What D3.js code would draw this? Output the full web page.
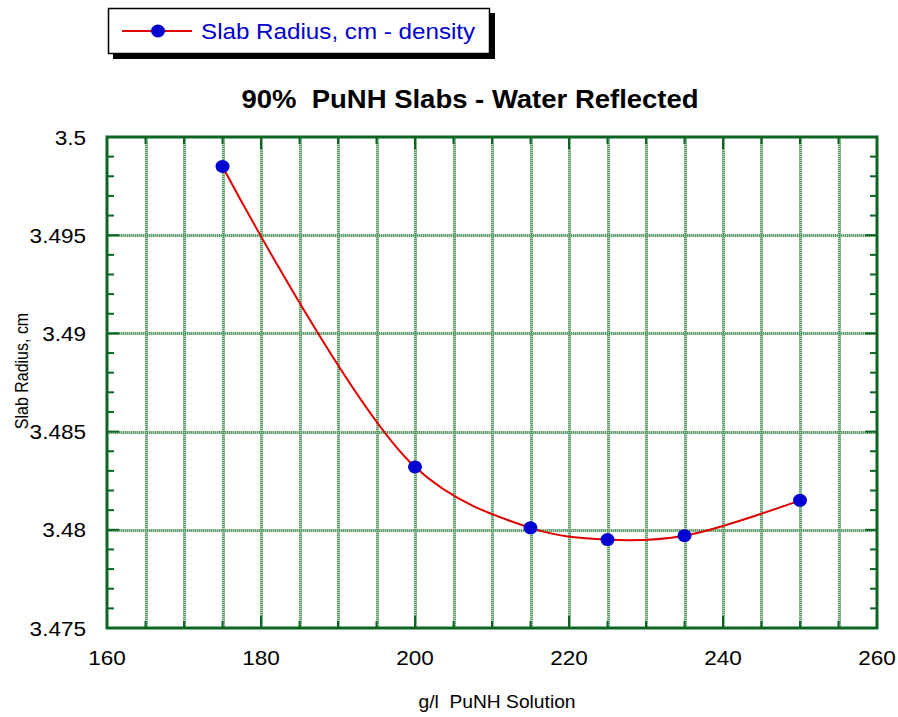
<!DOCTYPE html>
<html>
<head>
<meta charset="utf-8">
<script src="https://cdn.jsdelivr.net/npm/d3@7"></script>
<style>
  body { margin: 0; background: #fff; }
  svg { font-family: "Liberation Sans", Arial, sans-serif; }
  text { white-space: pre; }
</style>
</head>
<body>
<svg id="chart" width="898" height="717"></svg>
<script>
// data
const density = [175, 200, 215, 225, 235, 250];
const radius = [3.4985, 3.4832, 3.4801, 3.4795, 3.4797, 3.4815];
const xTicks = [160, 180, 200, 220, 240, 260];
const yTicks = [3.475, 3.48, 3.485, 3.49, 3.495, 3.5];
const yTickText = ["3.475", "3.48", "3.485", "3.49", "3.495", "3.5"];

const svg = d3.select("#chart");
const pLeft = 107, pRight = 877, pTop = 137, pBottom = 628;
const green = "#0b6421";
const sx = 1.1; // the original picture is a bit wider than tall, text too

const x = d3.scaleLinear().domain([160, 260]).range([pLeft, pRight]);
const y = d3.scaleLinear().domain([3.475, 3.5]).range([pBottom, pTop]);

function label(g, tx, ty, str, size, anchor) {
  return g.append("text")
      .attr("transform", `translate(${tx},${ty}) scale(${sx},1)`)
      .attr("text-anchor", anchor || "middle")
      .attr("font-size", size)
      .text(str);
}

// grid: verticals every 5, horizontals at major ticks
const grid = svg.append("g");
const vGrid = d3.range(165, 260, 5);
const hGrid = yTicks.slice(1, -1);
[["#b4d2ba", null], ["#5c9c68", "1,1"]].forEach(([col, dash]) => {
  grid.append("g").selectAll("line")
      .data(vGrid).enter().append("line")
      .attr("x1", d => Math.round(x(d)) + 0.5).attr("x2", d => Math.round(x(d)) + 0.5)
      .attr("y1", pTop).attr("y2", pBottom)
      .attr("stroke", col).attr("stroke-width", 3)
      .attr("stroke-dasharray", dash);
  grid.append("g").selectAll("line")
      .data(hGrid).enter().append("line")
      .attr("x1", pLeft).attr("x2", pRight)
      .attr("y1", d => Math.round(y(d)) + 0.5).attr("y2", d => Math.round(y(d)) + 0.5)
      .attr("stroke", col).attr("stroke-width", 3)
      .attr("stroke-dasharray", dash);
});

// ticks (inward) on all four sides
const ticks = svg.append("g").attr("stroke", green).attr("stroke-width", 2);
const xMinor = d3.range(160, 261, 5);
const yMinor = d3.range(0, 26).map(i => 3.475 + i * 0.001);
xMinor.forEach(v => {
  const len = v % 20 === 0 ? 12 : 7;
  ticks.append("line").attr("x1", x(v)).attr("x2", x(v)).attr("y1", pBottom).attr("y2", pBottom - len);
  ticks.append("line").attr("x1", x(v)).attr("x2", x(v)).attr("y1", pTop).attr("y2", pTop + len);
});
yMinor.forEach((v, i) => {
  const len = i % 5 === 0 ? 12 : 7;
  ticks.append("line").attr("y1", y(v)).attr("y2", y(v)).attr("x1", pLeft).attr("x2", pLeft + len);
  ticks.append("line").attr("y1", y(v)).attr("y2", y(v)).attr("x1", pRight).attr("x2", pRight - len);
});

// frame
svg.append("rect")
    .attr("x", pLeft).attr("y", pTop)
    .attr("width", pRight - pLeft).attr("height", pBottom - pTop)
    .attr("fill", "none").attr("stroke", green).attr("stroke-width", 3);

// tick labels
const tl = svg.append("g");
xTicks.forEach(d => label(tl, x(d), 665, d, 20.5));
yTicks.forEach((d, i) => label(tl, 86, y(d) + 7.5, yTickText[i], 20.5, "end"));

// axis titles
label(svg, 497, 708, "g/l  PuNH Solution", 17.5);
svg.append("text")
    .attr("transform", `translate(28,371) scale(${sx},1) rotate(-90)`)
    .attr("text-anchor", "middle").attr("font-size", 16)
    .text("Slab Radius, cm");

// title
label(svg, 470, 108, "90%  PuNH Slabs - Water Reflected", 25).attr("font-weight", "bold");

// curve + markers
const pts = density.map((d, i) => [d, radius[i]]);
const line = d3.line()
    .x(d => x(d[0])).y(d => y(d[1]))
    .curve(d3.curveCatmullRom.alpha(0.5));
svg.append("path").datum(pts)
    .attr("d", line).attr("fill", "none")
    .attr("stroke", "#e00000").attr("stroke-width", 2);
svg.append("g").selectAll("ellipse")
    .data(pts).enter().append("ellipse")
    .attr("cx", d => x(d[0])).attr("cy", d => y(d[1]))
    .attr("rx", 7).attr("ry", 6.5).attr("fill", "#0000d0");

// legend with drop shadow
const lg = svg.append("g");
lg.append("rect").attr("x", 113).attr("y", 13).attr("width", 382).attr("height", 46).attr("fill", "#000");
lg.append("rect").attr("x", 108.5).attr("y", 8.5).attr("width", 381).attr("height", 45)
    .attr("fill", "#fff").attr("stroke", "#000").attr("stroke-width", 1.5);
lg.append("line").attr("x1", 122).attr("x2", 192).attr("y1", 31).attr("y2", 31)
    .attr("stroke", "#e00000").attr("stroke-width", 2);
lg.append("ellipse").attr("cx", 158).attr("cy", 31).attr("rx", 7).attr("ry", 6.5).attr("fill", "#0000d0");
label(lg, 201, 38.5, "Slab Radius, cm - density", 22, "start").attr("fill", "#0000d0");
</script>
</body>
</html>
